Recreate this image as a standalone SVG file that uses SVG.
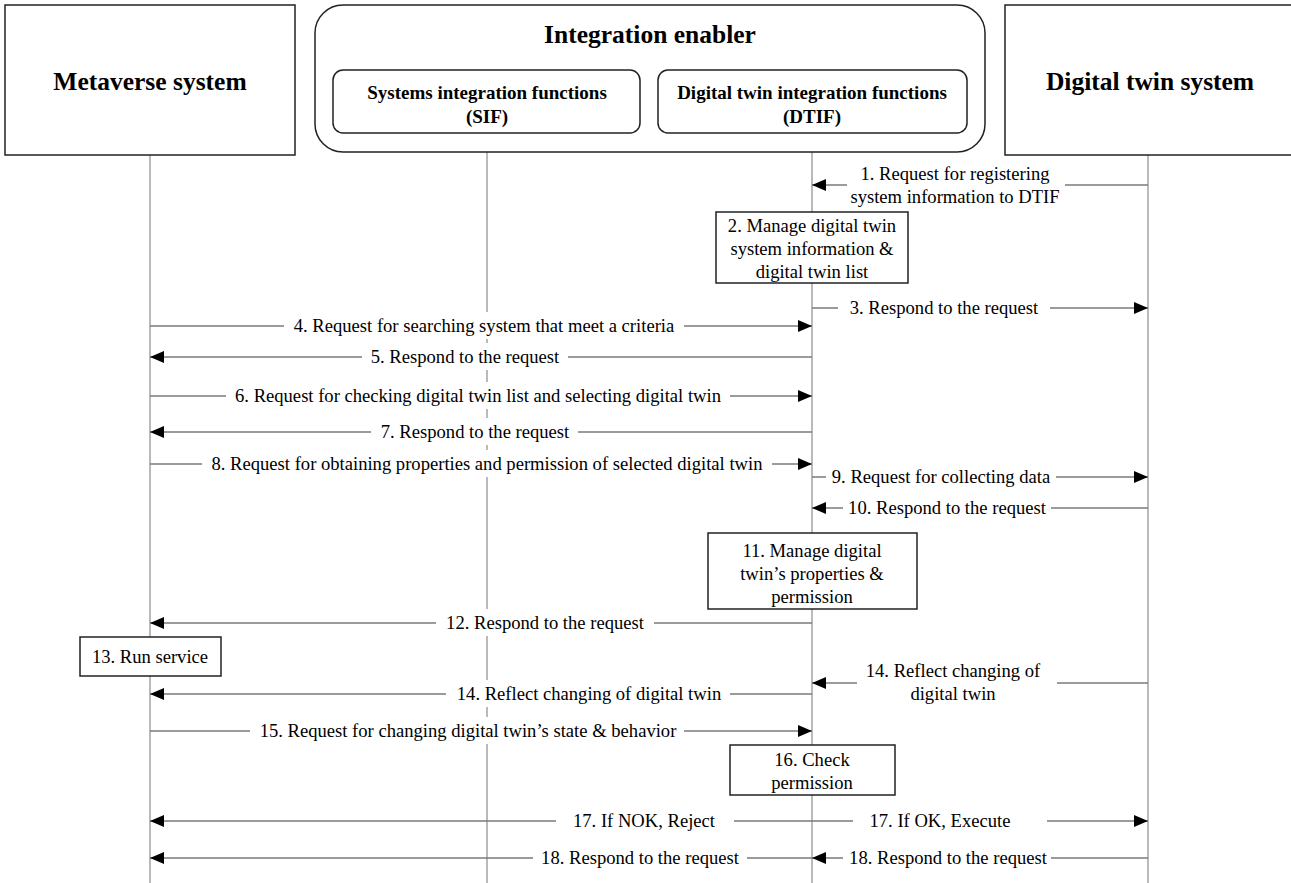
<svg xmlns="http://www.w3.org/2000/svg" width="1291" height="883" viewBox="0 0 1291 883">
<style>
.hdr{font-family:"Liberation Serif","Times New Roman",serif;font-weight:bold;font-size:25.5px;text-anchor:middle;fill:#000}
.sub{font-family:"Liberation Serif","Times New Roman",serif;font-weight:bold;font-size:19px;text-anchor:middle;fill:#000}
.msg{font-family:"Liberation Serif","Times New Roman",serif;font-size:18.6px;text-anchor:middle;fill:#000}
.box{fill:#fff;stroke:#222;stroke-width:1.5}
.life{stroke:#8c8c8c;stroke-width:1.2;fill:none}
.arr{stroke:#7a7a7a;stroke-width:1.5;fill:none;marker-end:url(#ah)}
.bg{fill:#fff}
</style>
<defs>
<marker id="ah" markerUnits="userSpaceOnUse" markerWidth="16" markerHeight="14" refX="14" refY="6" orient="auto">
<path d="M0,0 L14,6 L0,12 z" fill="#000"/>
</marker>
</defs>
<rect width="1291" height="883" fill="#fff"/>

<g id="lifelines">
<line class="life" x1="150" y1="155" x2="150" y2="883"/>
<line class="life" x1="487" y1="133" x2="487" y2="883"/>
<line class="life" x1="812" y1="133" x2="812" y2="883"/>
<line class="life" x1="1148" y1="155" x2="1148" y2="883"/>
</g>

<g id="metaverse">
<rect class="box" x="5" y="5" width="290" height="150"/>
<text class="hdr" x="150" y="90">Metaverse system</text>
</g>

<g id="integration-enabler">
<rect class="box" x="315" y="5" width="670" height="147" rx="28" ry="28" fill="none"/>
<text class="hdr" x="650" y="43">Integration enabler</text>
</g>

<g id="sif">
<rect class="box" x="333" y="70" width="307" height="63" rx="10" ry="10"/>
<text class="sub" x="487" y="99">Systems integration functions</text>
<text class="sub" x="487" y="123">(SIF)</text>
</g>

<g id="dtif">
<rect class="box" x="658" y="70" width="309" height="63" rx="10" ry="10"/>
<text class="sub" x="812" y="99">Digital twin integration functions</text>
<text class="sub" x="812" y="123">(DTIF)</text>
</g>

<g id="digital-twin">
<rect class="box" x="1005" y="5" width="290" height="150"/>
<text class="hdr" x="1150" y="90">Digital twin system</text>
</g>

<g id="connectors">
<line class="arr" x1="1148" y1="185" x2="812" y2="185"/>
<line class="arr" x1="812" y1="308" x2="1148" y2="308"/>
<line class="arr" x1="150" y1="326" x2="812" y2="326"/>
<line class="arr" x1="812" y1="357" x2="150" y2="357"/>
<line class="arr" x1="150" y1="396" x2="812" y2="396"/>
<line class="arr" x1="812" y1="432" x2="150" y2="432"/>
<line class="arr" x1="150" y1="464" x2="812" y2="464"/>
<line class="arr" x1="812" y1="477" x2="1148" y2="477"/>
<line class="arr" x1="1148" y1="508" x2="812" y2="508"/>
<line class="arr" x1="812" y1="623" x2="150" y2="623"/>
<line class="arr" x1="1148" y1="683" x2="812" y2="683"/>
<line class="arr" x1="812" y1="694" x2="150" y2="694"/>
<line class="arr" x1="150" y1="731" x2="812" y2="731"/>
<line class="arr" x1="812" y1="821" x2="150" y2="821"/>
<line class="arr" x1="812" y1="821" x2="1148" y2="821"/>
<line class="arr" x1="812" y1="858" x2="150" y2="858"/>
<line class="arr" x1="1148" y1="858" x2="812" y2="858"/>
</g>

<g id="labels">
<rect class="bg" x="847" y="162" width="218" height="47"/>
<text class="msg" x="955" y="180">1. Request for registering</text>
<text class="msg" x="955" y="203">system information to DTIF</text>

<rect class="bg" x="838" y="294" width="212" height="27"/>
<text class="msg" x="944" y="314">3. Respond to the request</text>

<rect class="bg" x="284" y="312" width="400" height="27"/>
<text class="msg" x="484" y="332">4. Request for searching system that meet a criteria</text>

<rect class="bg" x="362" y="343" width="206" height="27"/>
<text class="msg" x="465" y="363">5. Respond to the request</text>

<rect class="bg" x="226" y="382" width="504" height="27"/>
<text class="msg" x="478" y="402">6. Request for checking digital twin list and selecting digital twin</text>

<rect class="bg" x="371" y="418" width="207" height="27"/>
<text class="msg" x="475" y="438">7. Respond to the request</text>

<rect class="bg" x="202" y="450" width="570" height="27"/>
<text class="msg" x="487" y="470">8. Request for obtaining properties and permission of selected digital twin</text>

<rect class="bg" x="826" y="464" width="230" height="27"/>
<text class="msg" x="941" y="483">9. Request for collecting data</text>

<rect class="bg" x="843" y="494" width="208" height="27"/>
<text class="msg" x="947" y="514">10. Respond to the request</text>

<rect class="bg" x="436" y="609" width="218" height="27"/>
<text class="msg" x="545" y="629">12. Respond to the request</text>

<rect class="bg" x="857" y="659" width="200" height="47"/>
<text class="msg" x="953" y="677">14. Reflect changing of</text>
<text class="msg" x="953" y="700">digital twin</text>

<rect class="bg" x="446" y="680" width="284" height="27"/>
<text class="msg" x="589" y="700">14. Reflect changing of digital twin</text>

<rect class="bg" x="250" y="717" width="434" height="27"/>
<text class="msg" x="468" y="737">15. Request for changing digital twin’s state &amp; behavior</text>

<rect class="bg" x="556" y="807" width="178" height="27"/>
<text class="msg" x="644" y="827">17. If NOK, Reject</text>

<rect class="bg" x="853" y="807" width="194" height="27"/>
<text class="msg" x="940" y="827">17. If OK, Execute</text>

<rect class="bg" x="533" y="844" width="214" height="27"/>
<text class="msg" x="640" y="864">18. Respond to the request</text>

<rect class="bg" x="843" y="844" width="208" height="27"/>
<text class="msg" x="948" y="864">18. Respond to the request</text>
</g>

<g id="step2">
<rect class="box" x="716" y="212" width="192" height="71"/>
<text class="msg" x="812" y="232">2. Manage digital twin</text>
<text class="msg" x="812" y="255">system information &amp;</text>
<text class="msg" x="812" y="278">digital twin list</text>
</g>

<g id="step11">
<rect class="box" x="708" y="533" width="209" height="76"/>
<text class="msg" x="812" y="557">11. Manage digital</text>
<text class="msg" x="812" y="580">twin’s properties &amp;</text>
<text class="msg" x="812" y="603">permission</text>
</g>

<g id="step13">
<rect class="box" x="80" y="637" width="141" height="39"/>
<text class="msg" x="150" y="663">13. Run service</text>
</g>

<g id="step16">
<rect class="box" x="730" y="745" width="165" height="50"/>
<text class="msg" x="812" y="766">16. Check</text>
<text class="msg" x="812" y="789">permission</text>
</g>
</svg>
